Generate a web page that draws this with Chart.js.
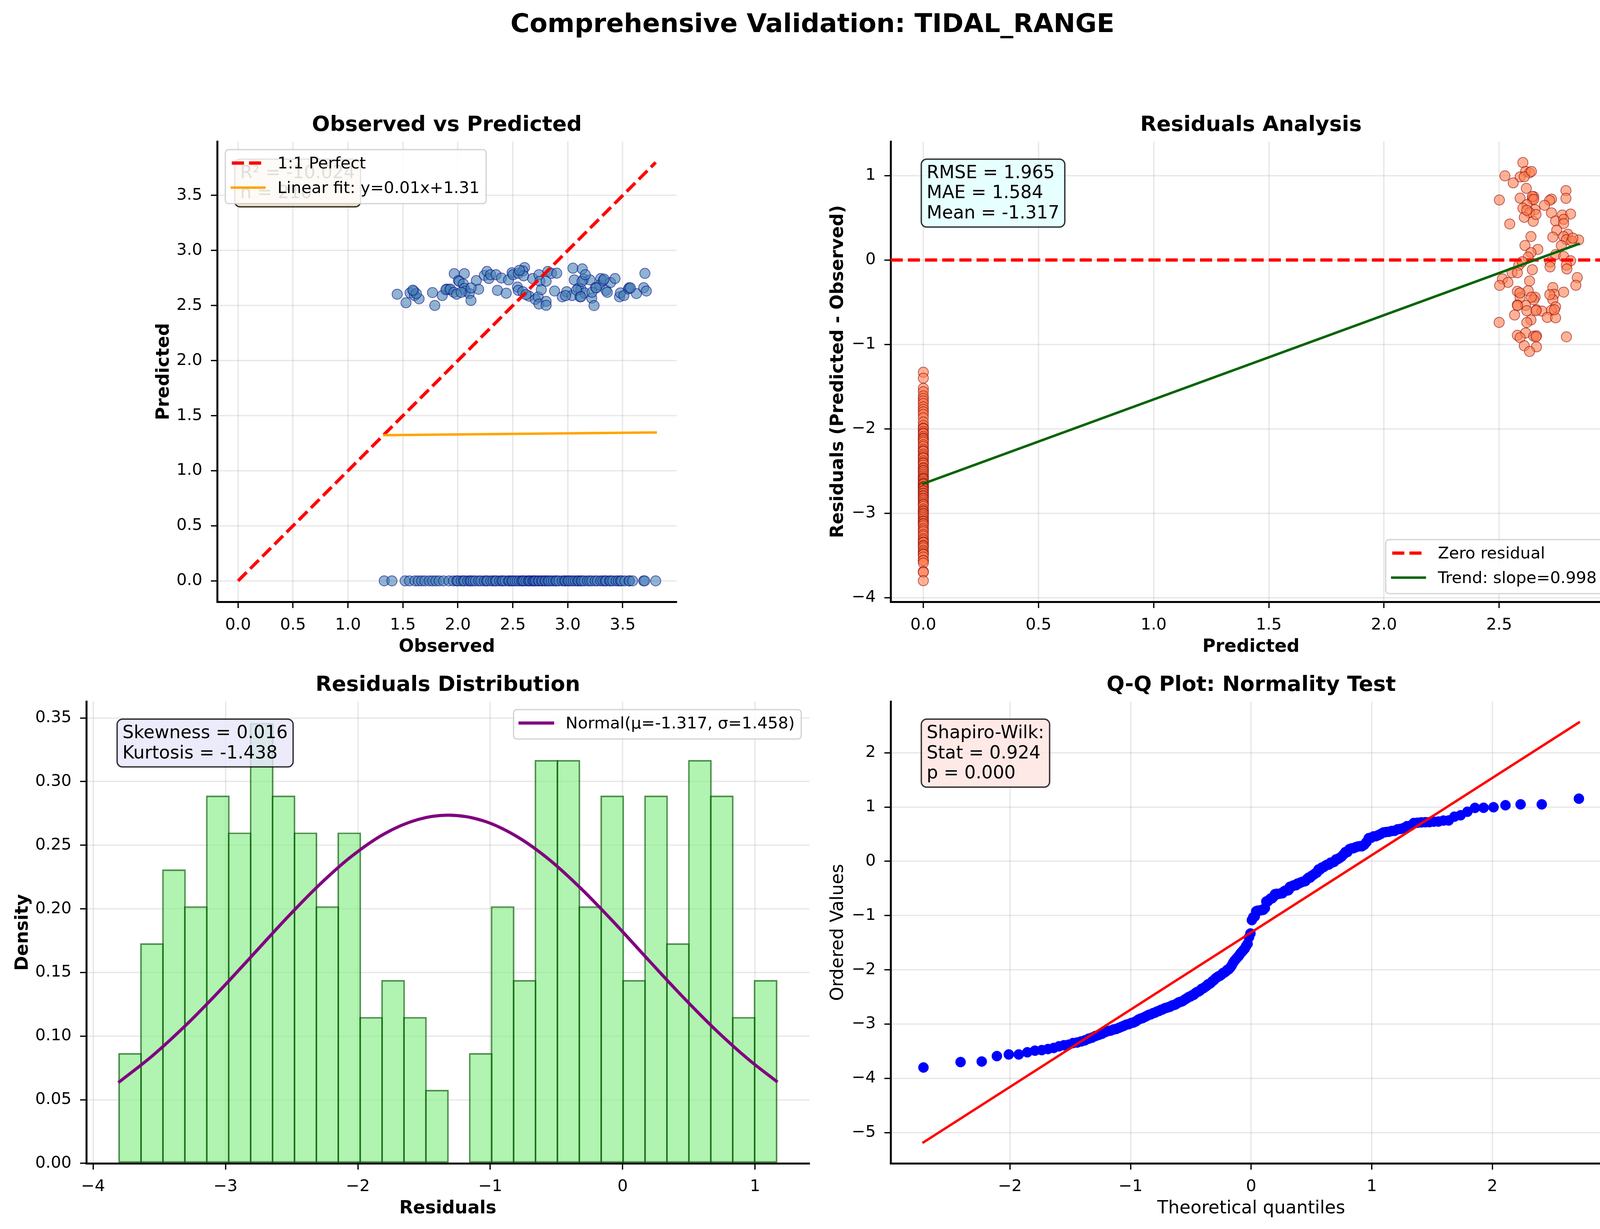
<!DOCTYPE html>
<html lang="en">
<head>
<meta charset="UTF-8">
<title>Comprehensive Validation: TIDAL_RANGE</title>
<script src="https://cdn.jsdelivr.net/npm/chart.js"></script>
<style>
body {margin:0; background:#fff; width:4160px; height:3145px; position:relative; overflow:hidden; font-family:"DejaVu Sans", sans-serif;}
#suptitle {position:absolute; left:0; top:19px; width:4160px; text-align:center; font-weight:bold; font-size:66.7px; line-height:80px; color:#000;}
canvas {position:absolute;}
</style>
</head>
<body>
<div id="suptitle">Comprehensive Validation: TIDAL_RANGE</div>
<canvas id="chartObsPred"></canvas>
<canvas id="chartResid"></canvas>
<canvas id="chartHist"></canvas>
<canvas id="chartQQ"></canvas>

<script>
// ---- data ----
// points where the model gave a prediction (observed, predicted)
var obsHit = [1.448,1.528,1.565,1.598,1.606,1.647,1.622,1.769,1.790,1.858,1.899,1.923,
  1.891,1.932,1.964,1.989,1.967,2.059,2.005,2.013,2.049,2.059,2.070,2.103,2.119,2.168,2.189,
  2.241,2.265,2.282,2.298,2.347,2.360,2.396,2.440,2.461,2.493,2.502,2.550,2.607,2.591,2.599,
  2.542,2.550,2.591,2.648,2.681,2.705,2.730,2.738,2.746,2.738,2.759,2.803,2.803,2.803,2.819,
  2.852,2.900,2.880,2.950,2.990,3.039,3.047,3.132,3.059,3.096,3.112,3.145,3.120,3.153,3.202,
  3.218,3.239,3.251,3.300,3.291,3.324,3.348,3.389,3.430,3.471,3.479,3.511,3.552,3.560,3.625,
  3.691,3.715,3.702,1.590,2.120,2.030,2.560,2.620,3.130,3.080,3.160,2.980,3.120,3.220,3.330,
  3.260,3.360,3.570];
var predHit = [2.603,2.525,2.615,2.632,2.591,2.561,2.609,2.618,2.501,2.591,2.650,2.644,
  2.644,2.650,2.620,2.603,2.790,2.790,2.727,2.719,2.697,2.656,2.632,2.609,2.546,2.727,2.648,
  2.774,2.810,2.745,2.780,2.780,2.638,2.750,2.612,2.733,2.798,2.780,2.792,2.845,2.815,2.770,
  2.668,2.638,2.626,2.585,2.745,2.556,2.579,2.780,2.721,2.514,2.644,2.538,2.502,2.721,2.810,
  2.792,2.794,2.632,2.579,2.626,2.591,2.839,2.833,2.733,2.656,2.579,2.739,2.650,2.615,2.733,
  2.567,2.500,2.662,2.745,2.686,2.727,2.638,2.709,2.745,2.579,2.615,2.591,2.650,2.662,2.609,
  2.662,2.632,2.792,2.640,2.660,2.620,2.820,2.600,2.720,2.640,2.780,2.590,2.580,2.620,2.740,
  2.660,2.620,2.660];
// points where the model predicted 0 (observed values)
var obsMiss = [1.33,1.40,1.52,1.56,1.61,1.64,1.67,1.70,1.74,1.77,1.80,1.83,1.87,1.92,1.96,
  1.99,2.00,2.03,2.05,2.06,2.09,2.11,2.12,2.14,2.16,2.19,2.21,2.24,2.26,2.27,2.30,
  2.32,2.34,2.35,2.38,2.40,2.41,2.43,2.46,2.47,2.49,2.50,2.52,2.54,2.56,2.58,2.59,2.60,2.62,2.64,
  2.65,2.66,2.68,2.69,2.70,2.71,2.73,2.74,2.76,2.77,2.79,2.80,2.82,2.83,2.85,2.87,2.89,2.90,2.92,2.95,2.97,
  2.98,3.00,3.01,3.03,3.05,3.07,3.09,3.10,3.12,3.13,3.15,3.18,3.20,3.22,3.25,3.27,3.30,
  3.32,3.34,3.35,3.38,3.39,3.41,3.44,3.46,3.48,3.49,3.52,3.56,3.56,3.59,3.69,3.70,3.80];

// residual histogram (30 bins)
var binCenters = [-3.720,-3.555,-3.389,-3.224,-3.058,-2.893,-2.727,-2.562,-2.396,-2.231,
  -2.065,-1.900,-1.734,-1.569,-1.403,-1.238,-1.072,-0.907,-0.741,-0.576,
  -0.410,-0.245,-0.079,0.086,0.252,0.417,0.583,0.748,0.914,1.079];
var binDensity = [0.0866,0.173,0.231,0.202,0.289,0.260,0.346,0.289,0.260,0.202,
  0.260,0.115,0.144,0.115,0.0577,0,0.0866,0.202,0.144,0.317,
  0.317,0.202,0.289,0.144,0.289,0.173,0.317,0.289,0.115,0.144];
// fitted normal curve
var normX = [-3.80,-3.55,-3.30,-3.05,-2.80,-2.55,-2.30,-2.05,-1.80,-1.55,-1.317,
  -1.05,-0.80,-0.55,-0.30,-0.05,0.20,0.45,0.70,0.95,1.16];
var normY = [0.0642,0.0847,0.1085,0.1350,0.1631,0.1914,0.2180,0.2411,0.2590,0.2701,0.2736,
  0.2691,0.2569,0.2383,0.2145,0.1876,0.1592,0.1313,0.1051,0.0817,0.0646];

// reference lines
var perfectX = [0, 3.8], perfectY = [0, 3.8];
var fitX = [1.33, 3.80], fitY = [1.323, 1.348];
var trendX = [0, 2.845], trendY = [-2.65, 0.19];
var qqLineX = [-2.717, 2.717], qqLineY = [-5.18, 2.56];

// tick values
var obsTicks = [0, 0.5, 1, 1.5, 2, 2.5, 3, 3.5];
var predTicks = [0, 0.5, 1, 1.5, 2, 2.5];
var residTicks = [-4, -3, -2, -1, 0, 1];
var densTicks = [0, 0.05, 0.10, 0.15, 0.20, 0.25, 0.30, 0.35];
var histTicks = [-4, -3, -2, -1, 0, 1];
var qqXTicks = [-2, -1, 0, 1, 2];
var qqYTicks = [-5, -4, -3, -2, -1, 0, 1, 2];

// annotation text
var noteObs = ['R\u00b2 = -10.024', 'n = 210'];
var noteResid = ['RMSE = 1.965', 'MAE = 1.584', 'Mean = -1.317'];
var noteHist = ['Skewness = 0.016', 'Kurtosis = -1.438'];
var noteQQ = ['Shapiro-Wilk:', 'Stat = 0.924', 'p = 0.000'];

// ---- derived series ----
function pts(xs, ys) { return xs.map(function(x, i) { return {x: x, y: ys[i]}; }); }
var residHit = obsHit.map(function(o, i) { return predHit[i] - o; });
var residMiss = obsMiss.map(function(o) { return -o; });
var zeros = obsMiss.map(function() { return 0; });
var sorted = residMiss.concat(residHit).sort(function(a, b) { return a - b; });

// normal quantiles of the ranks (the x of a Q-Q plot)
function normInv(p) {
  var a = [-39.69683028665376, 220.9460984245205, -275.9285104469687, 138.3577518672690, -30.66479806614716, 2.506628277459239];
  var b = [-54.47609879822406, 161.5858368580409, -155.6989798598866, 66.80131188771972, -13.28068155288572];
  var c = [-0.007784894002430293, -0.3223964580411365, -2.400758277161838, -2.549732539343734, 4.374664141464968, 2.938163982698783];
  var d = [0.007784695709041462, 0.3224671290700398, 2.445134137142996, 3.754408661907416];
  var q, r;
  if (p < 0.02425) {
    q = Math.sqrt(-2 * Math.log(p));
    return (((((c[0]*q+c[1])*q+c[2])*q+c[3])*q+c[4])*q+c[5]) / ((((d[0]*q+d[1])*q+d[2])*q+d[3])*q+1);
  }
  if (p > 1 - 0.02425) {
    q = Math.sqrt(-2 * Math.log(1 - p));
    return -(((((c[0]*q+c[1])*q+c[2])*q+c[3])*q+c[4])*q+c[5]) / ((((d[0]*q+d[1])*q+d[2])*q+d[3])*q+1);
  }
  q = p - 0.5; r = q * q;
  return (((((a[0]*r+a[1])*r+a[2])*r+a[3])*r+a[4])*r+a[5])*q / (((((b[0]*r+b[1])*r+b[2])*r+b[3])*r+b[4])*r+1);
}
var nRes = sorted.length;
var qqX = sorted.map(function(_, i) {
  var last = Math.pow(0.5, 1 / nRes);
  var p = i === 0 ? 1 - last : (i === nRes - 1 ? last : (i + 1 - 0.3175) / (nRes + 0.365));
  return normInv(p);
});

// ---- look ----
Chart.defaults.font.family = '"DejaVu Sans", sans-serif';
Chart.defaults.color = '#000';
var MINUS = '\u2212';
function fmtInt(v) { return (v < 0 ? MINUS : '') + Math.abs(v); }
function fmtDec(n) { return function(v) { return (v < 0 ? MINUS : '') + Math.abs(v).toFixed(n); }; }

function axis(min, max, ticks, fmt, title, bold, horizontal, size) {
  return {
    type: 'linear', min: min, max: max, bounds: 'data', offset: false,
    afterBuildTicks: function(s) { s.ticks = ticks.map(function(v) { return {value: v}; }); },
    afterFit: function(s) { if (horizontal) s.height = size; else s.width = size; },
    grid: {offset: false, color: 'rgba(176,176,176,0.3)', lineWidth: 3.3, tickLength: 16, tickColor: '#000', tickWidth: 3.3},
    border: {color: '#000', width: 5},
    ticks: {font: {size: 41.7}, color: '#000', padding: horizontal ? 19 : 22, maxRotation: 0, autoSkip: false,
      callback: function(v) { return fmt(v); }},
    title: {display: true, text: title, color: '#000', padding: 0, font: {size: 45.8, weight: bold ? 'bold' : 'normal'}}
  };
}

function roundBox(ctx, x, y, w, h, r) {
  ctx.beginPath();
  ctx.moveTo(x + r, y);
  ctx.arcTo(x + w, y, x + w, y + h, r);
  ctx.arcTo(x + w, y + h, x, y + h, r);
  ctx.arcTo(x, y + h, x, y, r);
  ctx.arcTo(x, y, x + w, y, r);
  ctx.closePath();
}

// text box at axes fraction (0.05, 0.95), like a matplotlib bbox
function drawNote(ctx, a, lines, fill) {
  var fs = 45.8, pad = 0.3 * fs, step = 51.7;
  ctx.font = fs + 'px "DejaVu Sans"';
  var x = a.left + 0.05 * (a.right - a.left);
  var top = a.top + 0.05 * (a.bottom - a.top);
  var w = 0;
  lines.forEach(function(l) { w = Math.max(w, ctx.measureText(l).width); });
  var h = (lines.length - 1) * step + 43;
  roundBox(ctx, x - pad, top - pad, w + 2 * pad, h + 2 * pad, pad);
  ctx.fillStyle = fill; ctx.fill();
  ctx.lineWidth = 3.5; ctx.strokeStyle = 'rgba(0,0,0,0.8)'; ctx.stroke();
  ctx.fillStyle = '#000'; ctx.textAlign = 'left'; ctx.textBaseline = 'alphabetic';
  lines.forEach(function(l, i) { ctx.fillText(l, x, top + 34.8 + i * step); });
}

function drawLegend(ctx, a, chart, lg) {
  var em = 41.7, bp = 0.4 * em, ls = 0.5 * em, hl = 2 * em, htp = 0.8 * em, bap = 0.5 * em, rowH = 42;
  ctx.font = em + 'px "DejaVu Sans"';
  var items = lg.items.map(function(i) { return chart.data.datasets[i]; });
  var tw = 0;
  items.forEach(function(ds) { tw = Math.max(tw, ctx.measureText(ds.label).width); });
  var W = bp + hl + htp + tw + bp;
  var H = 2 * bp + items.length * rowH + (items.length - 1) * ls;
  var x = lg.loc.indexOf('left') >= 0 ? a.left + bap : a.right - bap - W;
  var y = lg.loc.indexOf('upper') >= 0 ? a.top + bap : a.bottom - bap - H;
  roundBox(ctx, x, y, W, H, 0.2 * em);
  ctx.fillStyle = 'rgba(255,255,255,0.87)'; ctx.fill();
  ctx.lineWidth = 3.3; ctx.strokeStyle = 'rgba(204,204,204,0.85)'; ctx.stroke();
  items.forEach(function(ds, i) {
    var base = y + bp + i * (rowH + ls) + 31.7;
    var hy = base - 14;
    ctx.save();
    ctx.beginPath();
    ctx.setLineDash(ds.borderDash || []);
    ctx.lineWidth = ds.borderWidth; ctx.strokeStyle = ds.borderColor;
    ctx.lineCap = ds.borderDash ? 'butt' : 'square';
    ctx.moveTo(x + bp, hy); ctx.lineTo(x + bp + hl, hy);
    ctx.stroke();
    ctx.restore();
    ctx.fillStyle = '#000'; ctx.textAlign = 'left'; ctx.textBaseline = 'alphabetic';
    ctx.fillText(ds.label, x + bp + hl + htp, base);
  });
}

function overlay(note, fill, legend) {
  return {
    id: 'overlay',
    afterDraw: function(chart) {
      var ctx = chart.ctx;
      ctx.save();
      if (note) drawNote(ctx, chart.chartArea, note, fill);
      if (legend) drawLegend(ctx, chart.chartArea, chart, legend);
      ctx.restore();
    }
  };
}

function place(id, left, top, w, h) {
  var c = document.getElementById(id);
  c.width = w; c.height = h;
  c.style.left = left + 'px'; c.style.top = top + 'px';
  return c;
}

function baseOptions(title, scales) {
  return {
    responsive: false, animation: false, devicePixelRatio: 1,
    layout: {padding: {left: 0, right: 10, top: 0, bottom: 0}},
    plugins: {
      legend: {display: false}, tooltip: {enabled: false},
      title: {display: true, text: title, fullSize: false, color: '#000',
        font: {size: 54.2, weight: 'bold'}, padding: {top: 0, bottom: 8.96}}
    },
    scales: scales
  };
}

// Observed vs Predicted
new Chart(place('chartObsPred', 393, 288, 1354, 1396), {
  type: 'scatter',
  data: {datasets: [
    {label: 'Linear fit: y=0.01x+1.31', data: pts(fitX, fitY), showLine: true, pointRadius: 0,
      borderColor: 'orange', borderWidth: 6.25, borderCapStyle: 'square', order: 1},
    {label: '1:1 Perfect', data: pts(perfectX, perfectY), showLine: true, pointRadius: 0,
      borderColor: 'red', borderWidth: 8.3, borderDash: [31, 13], order: 2},
    {label: 'points', data: pts(obsHit, predHit).concat(pts(obsMiss, zeros)), pointRadius: 13, pointBorderWidth: 2,
      backgroundColor: 'rgba(70,130,180,0.6)', borderColor: 'rgba(0,0,128,0.6)', order: 3}
  ]},
  options: baseOptions('Observed vs Predicted', {
    x: axis(-0.19, 3.99, obsTicks, fmtDec(1), 'Observed', true, true, 144),
    y: axis(-0.19, 3.99, obsTicks, fmtDec(1), 'Predicted', true, false, 163)
  }),
  plugins: [overlay(noteObs, 'rgba(245,222,179,0.8)', {loc: 'upper left', items: [1, 0]})]
});

// Residuals Analysis
new Chart(place('chartResid', 2119, 288, 2021, 1396), {
  type: 'scatter',
  data: {datasets: [
    {label: 'Trend: slope=0.998', data: pts(trendX, trendY), showLine: true, pointRadius: 0,
      borderColor: 'darkgreen', borderWidth: 6.25, borderCapStyle: 'square', order: 1},
    {label: 'Zero residual', data: pts([-0.142, 2.987], [0, 0]), showLine: true, pointRadius: 0,
      borderColor: 'red', borderWidth: 8.3, borderDash: [31, 13], order: 2},
    {label: 'residuals', data: pts(predHit, residHit).concat(pts(zeros, residMiss)), pointRadius: 13, pointBorderWidth: 2,
      backgroundColor: 'rgba(255,127,80,0.6)', borderColor: 'rgba(139,0,0,0.6)', order: 3}
  ]},
  options: baseOptions('Residuals Analysis', {
    x: axis(-0.142, 2.987, predTicks, fmtDec(1), 'Predicted', true, true, 144),
    y: axis(-4.05, 1.405, residTicks, fmtInt, 'Residuals (Predicted - Observed)', true, false, 161)
  }),
  plugins: [overlay(noteResid, 'rgba(224,255,255,0.8)', {loc: 'lower right', items: [1, 0]})]
});

// Residuals Distribution
var histScales = {
  x: axis(-4.051, 1.41, histTicks, fmtInt, 'Residuals', true, true, 144),
  y: axis(0, 0.363, densTicks, fmtDec(2), 'Density', true, false, 189)
};
histScales.x.z = 1; histScales.y.z = 1;
new Chart(place('chartHist', 32, 1721, 2050, 1400), {
  type: 'bar',
  data: {datasets: [
    {type: 'line', label: 'Normal(\u03bc=-1.317, \u03c3=1.458)', data: pts(normX, normY), pointRadius: 0,
      borderColor: 'purple', borderWidth: 8, borderCapStyle: 'square', cubicInterpolationMode: 'monotone', fill: false, order: 1},
    {type: 'bar', label: 'hist', data: pts(binCenters, binDensity), backgroundColor: 'rgba(144,238,144,0.7)',
      borderColor: 'rgba(0,100,0,0.7)', borderWidth: 4.2, borderSkipped: false, inflateAmount: 0,
      barThickness: 60.4, grouped: false, order: 2}
  ]},
  options: baseOptions('Residuals Distribution', histScales),
  plugins: [overlay(noteHist, 'rgba(230,230,250,0.8)', {loc: 'upper right', items: [0]})]
});

// Q-Q plot
new Chart(place('chartQQ', 2119, 1721, 2021, 1400), {
  type: 'scatter',
  data: {datasets: [
    {label: 'fit', data: pts(qqLineX, qqLineY), showLine: true, pointRadius: 0,
      borderColor: 'red', borderWidth: 6.25, borderCapStyle: 'square', order: 1},
    {label: 'ordered', data: pts(qqX, sorted), pointRadius: 13, pointBorderWidth: 1,
      backgroundColor: 'blue', borderColor: 'blue', order: 2}
  ]},
  options: baseOptions('Q-Q Plot: Normality Test', {
    x: axis(-2.989, 2.989, qqXTicks, fmtInt, 'Theoretical quantiles', false, true, 144),
    y: axis(-5.567, 2.947, qqYTicks, fmtInt, 'Ordered Values', false, false, 161)
  }),
  plugins: [overlay(noteQQ, 'rgba(255,228,225,0.8)', null)]
});
</script>
</body>
</html>
